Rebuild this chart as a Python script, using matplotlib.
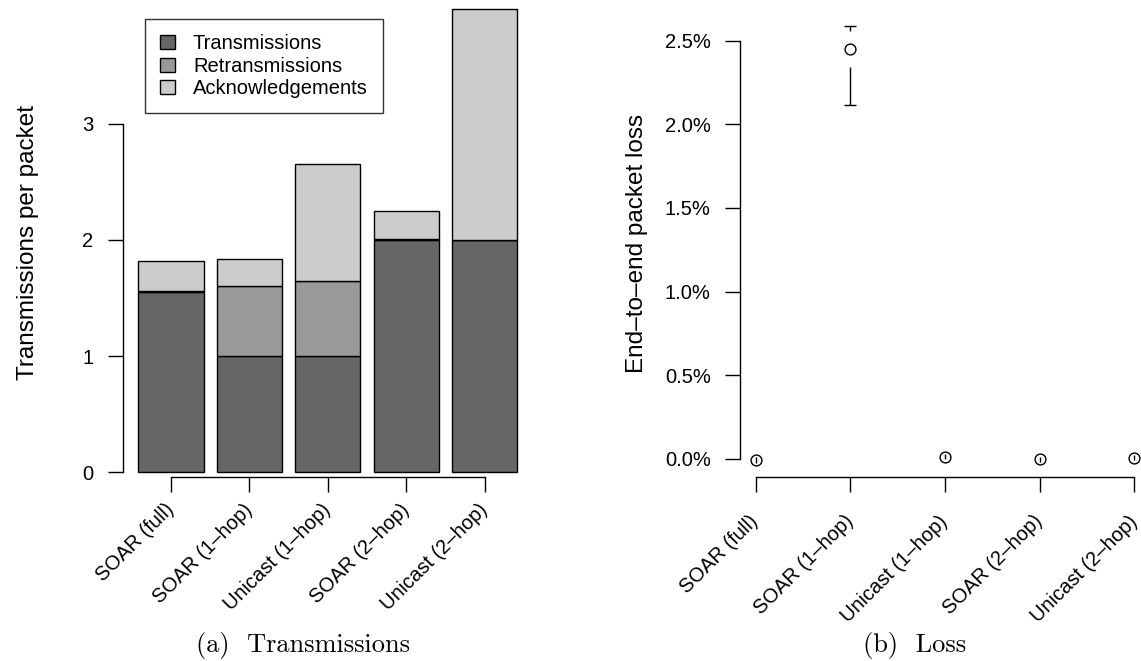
import matplotlib
matplotlib.use("Agg")
import matplotlib.pyplot as plt
from matplotlib.ticker import FuncFormatter
import numpy as np

# ---------------------------------------------------------
#  datos
# ---------------------------------------------------------
escenarios = ["SOAR (full)", "SOAR (1\u2013hop)", "Unicast (1\u2013hop)",
              "SOAR (2\u2013hop)", "Unicast (2\u2013hop)"]

transmisiones = [1.55, 1.00, 1.00, 2.00, 2.00]
retransmisiones = [0.013, 0.60, 0.65, 0.005, 0.003]
acks = [0.253, 0.233, 1.007, 0.244, 1.984]

perdida = [-0.008, 2.451, 0.012, -0.004, 0.006]        # %
perdida_lo = [-0.024, 2.116, -0.004, -0.020, -0.010]
perdida_hi = [0.008, 2.588, 0.028, 0.012, 0.022]

W, H = 1141, 661
GRIS_OSC = "#666666"
GRIS_MED = "#999999"
GRIS_CLA = "#cccccc"

plt.rcParams["font.family"] = ["Liberation Sans", "DejaVu Sans"]
fig = plt.figure(figsize=(W / 100, H / 100), dpi=100)


def px_axes(izq, der, arriba, abajo):
    return fig.add_axes([izq / W, 1 - abajo / H, (der - izq) / W, (abajo - arriba) / H])


def estilo_r(ax, ybounds, pad_x):
    for s in ("top", "right"):
        ax.spines[s].set_visible(False)
    for s in ("left", "bottom"):
        ax.spines[s].set_linewidth(1.0)
    ax.spines["left"].set_bounds(*ybounds)
    ax.tick_params(axis="both", direction="out", length=10.8, width=1.0,
                   labelsize=14.5)
    ax.tick_params(axis="y", pad=10.5)
    ax.tick_params(axis="x", pad=pad_x)
    for lbl in ax.get_xticklabels():
        lbl.set_rotation(45)
        lbl.set_ha("right")
        lbl.set_va("center")
        lbl.set_rotation_mode("anchor")


# ---------------------------------------------------------
#  (a) transmisiones: barras apiladas
# ---------------------------------------------------------
ax1 = px_axes(123.1, 532.7, 0, 477.3)
x = 0.7 + 1.2 * np.arange(len(escenarios))
base2 = np.array(transmisiones) + np.array(retransmisiones)
ax1.bar(x, transmisiones, width=1.0, color=GRIS_OSC, edgecolor="black",
        linewidth=1.0, label="Transmissions")
ax1.bar(x, retransmisiones, width=1.0, bottom=transmisiones, color=GRIS_MED,
        edgecolor="black", linewidth=1.0, label="Retransmissions")
ax1.bar(x, acks, width=1.0, bottom=base2, color=GRIS_CLA, edgecolor="black",
        linewidth=1.0, label="Acknowledgements")
ax1.set_xlim(-0.033, 6.236)
ax1.set_ylim(-0.043, 4.065)
ax1.set_yticks([0, 1, 2, 3])
ax1.set_xticks(x)
ax1.set_xticklabels(escenarios)
ax1.spines["bottom"].set_bounds(x[0], x[-1])
estilo_r(ax1, (0, 3), 10.5)

leg = ax1.legend(loc="upper left", bbox_to_anchor=(144.6 / W, 1 - 19.3 / H),
                 bbox_transform=fig.transFigure, borderaxespad=0,
                 fontsize=14.5, frameon=True, fancybox=False,
                 handlelength=0.75, handleheight=0.7, handletextpad=0.9,
                 labelspacing=0.17, borderpad=0.75)
leg.get_frame().set_edgecolor("black")
leg.get_frame().set_linewidth(1.0)

fig.text(28 / W, 1 - 243 / H, "Transmissions per packet", rotation=90,
         ha="center", va="center", fontsize=17.5)

# ---------------------------------------------------------
#  (b) pérdida: puntos con intervalo
# ---------------------------------------------------------
ax2 = px_axes(740.4, 1149.6, 8.3, 477.3)
xp = np.arange(1, len(escenarios) + 1)
hueco = 0.108  # separación del intervalo alrededor del punto (%)
for xi, yi, lo, hi in zip(xp, perdida, perdida_lo, perdida_hi):
    if hi - yi > hueco:
        ax2.vlines(xi, yi + hueco, hi, color="black", linewidth=1.0)
        ax2.plot([xi], [hi], marker="_", markersize=9, mew=1.0, color="black")
    if yi - lo > hueco:
        ax2.vlines(xi, lo, yi - hueco, color="black", linewidth=1.0)
        ax2.plot([xi], [lo], marker="_", markersize=9, mew=1.0, color="black")
    if hi - lo < 2 * hueco:
        ax2.vlines(xi, lo, hi, color="black", linewidth=1.0)
ax2.plot(xp, perdida, linestyle="none", marker="o", markersize=7.8,
         markerfacecolor="none", markeredgecolor="black", mew=1.0)
ax2.set_xlim(0.84, 5.16)
ax2.set_ylim(-0.111, 2.694)
ax2.set_yticks([0, 0.5, 1.0, 1.5, 2.0, 2.5])
ax2.yaxis.set_major_formatter(FuncFormatter(lambda v, p: f"{v:.1f}%"))
ax2.set_xticks(xp)
ax2.set_xticklabels(escenarios)
ax2.spines["bottom"].set_bounds(xp[0], xp[-1])
estilo_r(ax2, (0, 2.5), 18.8)

fig.text(637 / W, 1 - 243 / H, "End\u2013to\u2013end packet loss", rotation=90,
         ha="center", va="center", fontsize=17.5)

# ---------------------------------------------------------
#  subtítulos
# ---------------------------------------------------------
fig.text(303 / W, 1 - 652 / H, "(a)  Transmissions", family="cmr10",
         fontsize=19, ha="center", va="baseline")
fig.text(915 / W, 1 - 652 / H, "(b)  Loss", family="cmr10",
         fontsize=19, ha="center", va="baseline")

fig.savefig("out.png", dpi=100)
